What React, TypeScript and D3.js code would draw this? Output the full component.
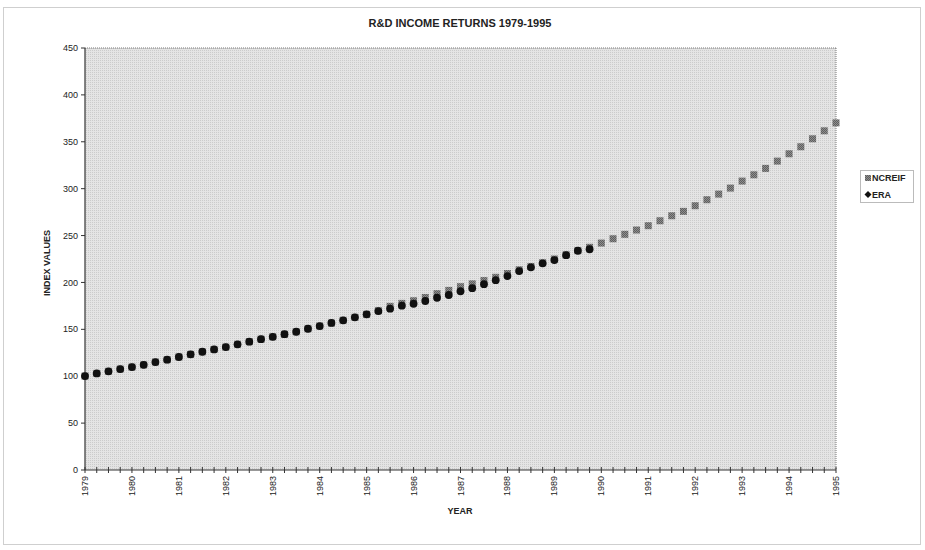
import React from "react";
import * as d3 from "d3";

const W = 925;
const H = 550;

const title = "R&D INCOME RETURNS 1979-1995";
const yLabel = "INDEX VALUES";
const xLabel = "YEAR";
const seriesNames = ["NCREIF", "ERA"];

const years = d3.range(1979, 1996);
const yTicks = [0, 50, 100, 150, 200, 250, 300, 350, 400, 450];

// quarterly values, starting 1979 Q1
const eraValues = [
  100.2, 103, 105.2, 107.6, 109.8, 112.2, 115.1, 117.6, 120.5, 123.3, 126.1,
  128.6, 131.1, 134, 136.8, 139.5, 142, 144.8, 147.4, 150.6, 153.5, 156.8,
  159.6, 162.8, 166, 169.5, 172, 175.2, 177.3, 180.2, 183.7, 186.6, 190.6,
  193.9, 198.2, 202.4, 206.8, 212.1, 216.1, 220.4, 223.9, 229.1, 233.8, 235.4,
];

const ncreifValues = [
  100.2, 103, 105.2, 107.6, 109.8, 112.2, 115.1, 117.6, 120.5, 123.3, 126.1,
  128.6, 131.1, 134, 136.8, 139.5, 142, 144.8, 147.4, 150.6, 153.5, 156.8,
  159.6, 162.8, 166, 169.8, 174.5, 177.7, 180.5, 184, 188, 191.5, 195.5,
  198.5, 202, 205.5, 209.5, 213.5, 217, 221, 225, 229.5, 234, 237.5, 242,
  246.6, 251.3, 255.9, 260.5, 265.8, 271.1, 275.8, 281.8, 288.2, 294.2,
  300.6, 308.1, 314.8, 321.6, 329.4, 337.2, 344.7, 353.2, 361.7, 370.2,
];

const FONT = "'Liberation Sans Narrow', 'Arial Narrow', 'Liberation Sans', Arial, sans-serif";

export default function App() {
  const x = d3.scaleLinear().domain([1979, 1995]).range([85, 836]);
  const y = d3.scaleLinear().domain([0, 450]).range([470, 48]);
  const quarters = d3.range(0, 65).map((i) => 1979 + i / 4);

  return (
    <svg
      width={W}
      height={H}
      style={{ position: "absolute", left: 0, top: 0, background: "#fff" }}
      fontFamily={FONT}
    >
      <defs>
        <pattern id="stip" width="2" height="2" patternUnits="userSpaceOnUse">
          <rect width="2" height="2" fill="#e4e4e4" />
          <rect width="1" height="1" fill="#cbcbcb" />
        </pattern>
        <pattern id="sq" width="2" height="2" patternUnits="userSpaceOnUse">
          <rect width="2" height="2" fill="#8e8e8e" />
          <rect width="1" height="1" fill="#5e5e5e" />
          <rect x="1" y="1" width="1" height="1" fill="#5e5e5e" />
        </pattern>
      </defs>
      {/* outer frame */}
      <rect x={3.5} y={7.5} width={917} height={537} fill="none" stroke="#cfcfcf" strokeWidth={1} />

      <text x={460} y={27} textAnchor="middle" fontSize={11} fontWeight="bold" fill="#222">
        {title}
      </text>

      {/* plot area */}
      <rect x={x(1979)} y={y(450)} width={x(1995) - x(1979)} height={y(0) - y(450)} fill="url(#stip)" />
      <line x1={x(1979)} x2={x(1995)} y1={y(450)} y2={y(450)} stroke="#777" strokeDasharray="1,1" />
      <line x1={x(1995)} x2={x(1995)} y1={y(450)} y2={y(0)} stroke="#777" strokeDasharray="1,1" />

      {/* y axis */}
      <line x1={x(1979)} x2={x(1979)} y1={y(450)} y2={y(0)} stroke="#333" strokeWidth={1.2} />
      {yTicks.map((t) => (
        <g key={t}>
          <line x1={x(1979) - 4} x2={x(1979)} y1={y(t)} y2={y(t)} stroke="#333" />
          <text x={x(1979) - 7} y={y(t)} dy="0.35em" textAnchor="end" fontSize={9} fill="#222">
            {t}
          </text>
        </g>
      ))}
      <text
        transform={`translate(50,${(y(0) + y(450)) / 2 + 4}) rotate(-90)`}
        textAnchor="middle"
        fontSize={9}
        fontWeight="bold"
        fill="#222"
      >
        {yLabel}
      </text>

      {/* x axis */}
      <line x1={x(1979)} x2={x(1995)} y1={y(0)} y2={y(0)} stroke="#333" strokeWidth={1.2} />
      {quarters.map((q) => (
        <line key={q} x1={x(q)} x2={x(q)} y1={y(0) - 3} y2={y(0) + 3} stroke="#333" />
      ))}
      {years.map((yr) => (
        <text
          key={yr}
          transform={`translate(${x(yr) + 3},${y(0) + 6}) rotate(-90)`}
          textAnchor="end"
          fontSize={9}
          fill="#222"
        >
          {yr}
        </text>
      ))}
      <text x={460} y={514} textAnchor="middle" fontSize={9} fontWeight="bold" fill="#222">
        {xLabel}
      </text>

      {/* NCREIF squares */}
      {ncreifValues.map((v, i) => (
        <rect
          key={"n" + i}
          x={x(1979 + i / 4) - 3.5}
          y={y(v) - 3.5}
          width={7}
          height={7}
          fill="url(#sq)"
        />
      ))}
      {/* ERA circles */}
      {eraValues.map((v, i) => (
        <circle key={"e" + i} cx={x(1979 + i / 4)} cy={y(v)} r={3.9} fill="#111" />
      ))}

      {/* legend */}
      <rect x={860.5} y={170.5} width={53} height={32} fill="#fff" stroke="#bbb" />
      <rect x={865} y={175} width={6} height={6} fill="url(#sq)" />
      <text x={872} y={181} fontSize={9} fontWeight="bold" fill="#222">
        {seriesNames[0]}
      </text>
      <path d="M868,191 L871.5,194.5 L868,198 L864.5,194.5 Z" fill="#111" />
      <text x={872} y={198} fontSize={9} fontWeight="bold" fill="#222">
        {seriesNames[1]}
      </text>
    </svg>
  );
}
